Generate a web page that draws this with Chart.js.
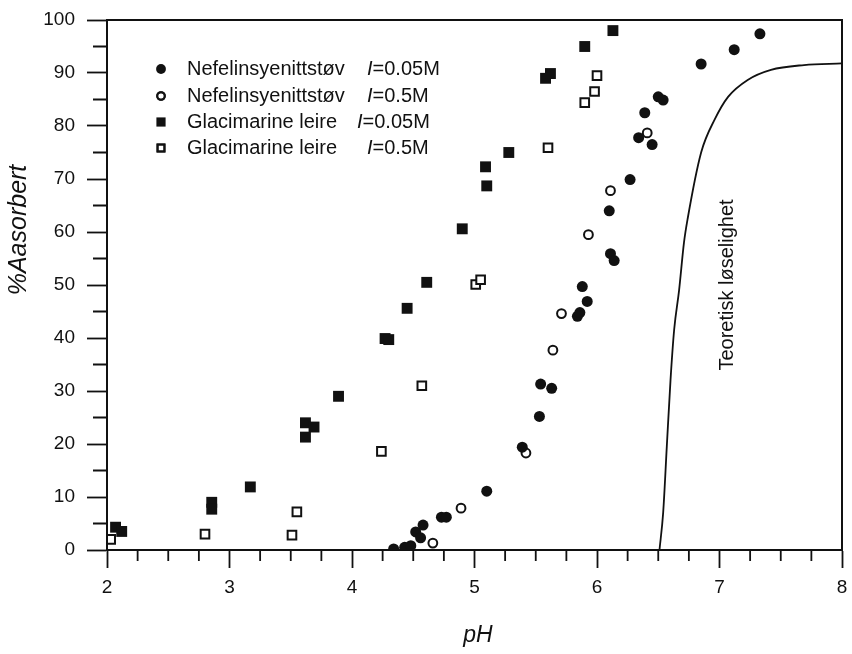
<!DOCTYPE html>
<html>
<head>
<meta charset="utf-8">
<script src="https://cdn.jsdelivr.net/npm/chart.js@4.4.0/dist/chart.umd.min.js"></script>
<style>
  body { margin: 0; background: #fff; }
</style>
</head>
<body>
<canvas id="chart" width="852" height="654"></canvas>
<script>
// Nefelinsyenittstøv I=0.05M (filled circles)
const nefLowPH = [4.34, 4.43, 4.48, 4.52, 4.56, 4.58, 4.73, 4.77, 5.10, 5.39, 5.53, 5.54, 5.63, 5.84, 5.86, 5.88, 5.92, 6.10, 6.11, 6.14, 6.27, 6.34, 6.39, 6.45, 6.50, 6.54, 6.85, 7.12, 7.33];
const nefLowAds = [0.2, 0.5, 0.8, 3.4, 2.3, 4.7, 6.2, 6.2, 11.1, 19.4, 25.2, 31.3, 30.5, 44.1, 44.8, 49.7, 46.9, 64.0, 55.9, 54.6, 69.9, 77.8, 82.5, 76.5, 85.5, 84.9, 91.7, 94.4, 97.4];

// Nefelinsyenittstøv I=0.5M (open circles)
const nefHighPH = [4.66, 4.89, 5.42, 5.64, 5.71, 5.93, 6.11, 6.41];
const nefHighAds = [1.3, 7.9, 18.3, 37.7, 44.6, 59.5, 67.8, 78.7];

// Glacimarine leire I=0.05M (filled squares)
const glaLowPH = [2.07, 2.12, 2.855, 2.855, 3.17, 3.62, 3.69, 3.62, 3.89, 4.27, 4.30, 4.45, 4.61, 4.90, 5.09, 5.10, 5.28, 5.58, 5.62, 5.90, 6.13];
const glaLowAds = [4.3, 3.5, 9.0, 7.7, 11.9, 24.0, 23.2, 21.3, 29.0, 39.9, 39.7, 45.6, 50.5, 60.6, 72.3, 68.7, 75.0, 89.0, 89.9, 95.0, 98.0];

// Glacimarine leire I=0.5M (open squares)
const glaHighPH = [2.03, 2.80, 3.51, 3.55, 4.24, 4.57, 5.01, 5.05, 5.60, 5.90, 5.98, 6.00];
const glaHighAds = [2.0, 3.0, 2.8, 7.2, 18.6, 31.0, 50.1, 51.0, 75.9, 84.4, 86.5, 89.5];

// Teoretisk løselighet (line)
const theoryPH = [6.51, 6.54, 6.57, 6.60, 6.63, 6.67, 6.71, 6.74, 6.85, 6.96, 7.07, 7.23, 7.42, 7.69, 8.00];
const theoryAds = [0, 7.0, 19.6, 32.0, 41.6, 49.0, 58.0, 62.5, 75.0, 81.2, 85.5, 88.7, 90.6, 91.5, 91.8];

const legendNames = ['Nefelinsyenittstøv', 'Nefelinsyenittstøv', 'Glacimarine leire', 'Glacimarine leire'];
const legendIonic = ['=0.05M', '=0.5M', '=0.05M', '=0.5M'];
const curveLabel = 'Teoretisk løselighet';
const xTitle = 'pH';
const yTitle = '%Aasorbert';

const FONT = '"Liberation Sans", Arial, sans-serif';
const INK = '#111';

function pairs(xs, ys) {
  return xs.map((x, i) => ({ x: x, y: ys[i] }));
}

const markerStyles = [
  { pointStyle: 'circle', pointRadius: 5.5, backgroundColor: INK, borderColor: INK, borderWidth: 0 },
  { pointStyle: 'circle', pointRadius: 4.4, backgroundColor: '#fff', borderColor: INK, borderWidth: 2 },
  { pointStyle: 'rect', pointRadius: 7.7, backgroundColor: INK, borderColor: INK, borderWidth: 0 },
  { pointStyle: 'rect', pointRadius: 6.1, backgroundColor: '#fff', borderColor: INK, borderWidth: 2 }
];

// legend, minor ticks, frame, titles and curve label
const extras = {
  id: 'extras',
  afterDraw(chart) {
    const ctx = chart.ctx;
    const a = chart.chartArea;
    const xs = chart.scales.x, ys = chart.scales.y;
    ctx.save();

    ctx.strokeStyle = INK;
    ctx.lineWidth = 2;
    ctx.strokeRect(a.left, a.top, a.right - a.left, a.bottom - a.top);

    ctx.lineWidth = 1.8;
    ctx.beginPath();
    for (let i = 1; i < 24; i++) {
      if (i % 4 === 0) continue;
      const px = xs.getPixelForValue(2 + i * 0.25);
      ctx.moveTo(px, a.bottom);
      ctx.lineTo(px, a.bottom + 11);
    }
    for (let v = 5; v < 100; v += 10) {
      const py = ys.getPixelForValue(v);
      ctx.moveTo(a.left, py);
      ctx.lineTo(a.left - 14, py);
    }
    ctx.stroke();

    // legend
    const rowY = [69, 96, 122, 148];
    const ionX = [367, 367, 357, 367];
    ctx.textBaseline = 'middle';
    for (let i = 0; i < 4; i++) {
      const s = markerStyles[i];
      ctx.fillStyle = s.backgroundColor;
      ctx.strokeStyle = s.borderColor;
      ctx.lineWidth = s.borderWidth;
      Chart.helpers.drawPoint(ctx, {
        pointStyle: s.pointStyle,
        radius: s.pointStyle === 'rect' ? s.pointRadius - 1.2 : s.pointRadius - 0.6,
        borderWidth: s.borderWidth,
        rotation: 0
      }, 161, rowY[i]);
      if (s.borderWidth) ctx.stroke();
      ctx.fillStyle = INK;
      ctx.font = '20px ' + FONT;
      ctx.textAlign = 'left';
      ctx.fillText(legendNames[i], 187, rowY[i]);
      ctx.font = 'italic 20px ' + FONT;
      ctx.fillText('I', ionX[i], rowY[i]);
      const w = ctx.measureText('I').width;
      ctx.font = '20px ' + FONT;
      ctx.fillText(legendIonic[i], ionX[i] + w, rowY[i]);
    }

    // curve label
    ctx.save();
    ctx.translate(727, 285);
    ctx.rotate(-Math.PI / 2);
    ctx.textAlign = 'center';
    ctx.font = '20px ' + FONT;
    ctx.fillText(curveLabel, 0, 0);
    ctx.restore();

    // axis titles
    ctx.save();
    ctx.translate(19, 230);
    ctx.rotate(-Math.PI / 2);
    ctx.textAlign = 'center';
    ctx.font = 'italic 25px ' + FONT;
    ctx.fillText(yTitle, 0, 0);
    ctx.restore();

    ctx.textAlign = 'center';
    ctx.font = 'italic 23px ' + FONT;
    ctx.fillText(xTitle, 478, 636);

    ctx.restore();
  }
};

const seriesX = [nefLowPH, nefHighPH, glaLowPH, glaHighPH];
const seriesY = [nefLowAds, nefHighAds, glaLowAds, glaHighAds];

const datasets = seriesX.map((xs, i) => Object.assign({
  label: legendNames[i] + ' I' + legendIonic[i],
  data: pairs(xs, seriesY[i]),
  showLine: false,
  pointHoverRadius: 6
}, markerStyles[i]));

datasets.push({
  label: curveLabel,
  data: pairs(theoryPH, theoryAds),
  showLine: true,
  pointRadius: 0,
  borderColor: INK,
  borderWidth: 1.8,
  cubicInterpolationMode: 'monotone',
  fill: false
});

new Chart(document.getElementById('chart').getContext('2d'), {
  type: 'scatter',
  data: { datasets: datasets },
  options: {
    responsive: false,
    animation: false,
    devicePixelRatio: 1,
    layout: { padding: { top: 20, right: 10, left: 0, bottom: 0 } },
    plugins: {
      legend: { display: false },
      tooltip: { enabled: false }
    },
    scales: {
      x: {
        type: 'linear',
        min: 2,
        max: 8,
        ticks: { stepSize: 1, color: INK, padding: 8, font: { family: FONT, size: 19 } },
        grid: { drawOnChartArea: false, tickLength: 18, tickColor: INK, tickWidth: 1.8 },
        border: { display: true, color: INK, width: 2 },
        afterFit(scale) {
          scale.height = 104;
          scale.paddingLeft = 0;
          scale.paddingRight = 0;
        }
      },
      y: {
        min: 0,
        max: 100,
        ticks: { stepSize: 10, color: INK, padding: 12, font: { family: FONT, size: 19 } },
        grid: { drawOnChartArea: false, tickLength: 20, tickColor: INK, tickWidth: 1.8 },
        border: { display: true, color: INK, width: 2 },
        afterFit(scale) {
          scale.width = 107;
          scale.paddingTop = 0;
          scale.paddingBottom = 0;
        }
      }
    }
  },
  plugins: [extras]
});
</script>
</body>
</html>
